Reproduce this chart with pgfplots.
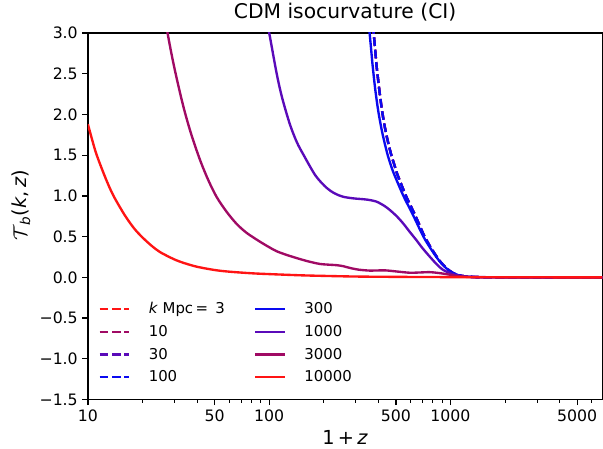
\documentclass[border=0pt]{standalone}
\usepackage{fontspec}
\setmainfont{DejaVu Sans}
\usepackage{pgfplots}
\pgfplotsset{compat=1.18}
\definecolor{cR}{RGB}{255,20,20}
\definecolor{cM}{RGB}{160,10,100}
\definecolor{cI}{RGB}{90,10,185}
\definecolor{cB}{RGB}{10,10,240}

\pgfplotstableread{
x y
345 3.4
358 3.0
365 2.8
372 2.6
385 2.3
401 2.02
422 1.76
448 1.52
470 1.37
490 1.26
550 1.0
620 0.77
709 0.5
790 0.33
869 0.2
950 0.11
1030 0.054
1100 0.028
1222 0.01
1400 0.003
1700 0.001
7000 0.0
}\kthree

\pgfplotstableread{
x y
363 3.4
377 3.0
384 2.8
391 2.6
405 2.3
421 2.02
442 1.76
469 1.52
492 1.37
510 1.26
568 1.0
636 0.77
720 0.5
797 0.33
873 0.2
952 0.11
1030 0.054
1100 0.028
1222 0.01
1400 0.003
1700 0.001
7000 0.0
}\kdash

\pgfplotstableread{
x y
92 3.4
100 3.0
110 2.5
118 2.2
130 1.88
142 1.66
155 1.5
180 1.25
207 1.1
230 1.03
255 0.99
290 0.97
315 0.963
350 0.953
390 0.93
430 0.88
461 0.83
500 0.76
546 0.667
600 0.55
647 0.46
700 0.36
766 0.258
840 0.16
907 0.094
1000 0.05
1075 0.027
1200 0.01
1500 0.003
2000 0.0
7000 0.0
}\kthousand

\pgfplotstableread{
x y
25 3.56
27.5 3.00
30 2.57
33.5 2.11
37 1.77
41.4 1.45
46 1.20
51.2 0.99
58 0.81
65.9 0.66
75 0.547
88.6 0.44
100 0.37
110 0.32
125 0.275
145 0.23
165 0.195
190 0.165
215 0.155
234 0.15
255 0.138
277 0.117
310 0.095
358 0.083
400 0.085
442 0.085
500 0.073
594 0.057
680 0.06
766 0.064
850 0.055
947 0.04
1100 0.015
1300 0.004
2000 0.0
7000 0.0
}\kthreethousand

\pgfplotstableread{
x y
10 1.88
11 1.55
12 1.32
13 1.13
14 0.98
16 0.76
18 0.60
20 0.49
22.4 0.39
25 0.31
30 0.22
34 0.175
40 0.13
50 0.09
60 0.07
80 0.05
100 0.04
150 0.025
200 0.018
300 0.01
500 0.006
1000 0.003
2000 0.001
7000 0.0
}\ktenthousand

\begin{document}
\begin{tikzpicture}
\begin{axis}[
  width=386.25pt, height=275.25pt, scale only axis,
  xmode=log, xmin=10, xmax=6880, ymin=-1.5, ymax=3,
  xtick={10,50,100,500,1000,5000},
  xticklabels={10,50,100,500,1000,5000},
  minor xtick={20,30,40,60,70,80,90,200,300,400,600,700,800,900,2000,3000,4000,6000},
  ytick={-1.5,-1,-0.5,0,0.5,1,1.5,2,2.5,3},
  yticklabels={−1.5,−1.0,−0.5,0.0,0.5,1.0,1.5,2.0,2.5,3.0},
  tick align=outside, xtick pos=bottom, ytick pos=left,
  major tick length=4.1pt, minor tick length=2.4pt,
  every tick/.style={black, line width=0.94pt},
  every minor tick/.style={black, line width=0.7pt},
  axis line style={line width=0.94pt},
  tick label style={font=\fontsize{11.8}{14}\selectfont},
  title={CDM isocurvature (CI)},
  title style={at={(rel axis cs:0.5,1)}, anchor=base, yshift=4.5pt, font=\fontsize{15.2}{18}\selectfont},
  xlabel={1\,+\,\textit{z}},
  xlabel style={at={(rel axis cs:0.5,0)}, anchor=base, yshift=-33.5pt, font=\fontsize{14.5}{17}\selectfont},
  ylabel={$\mathcal{T}$\textsubscript{\itshape b}(\textit{k},\,\textit{z})},
  ylabel style={at={(ticklabel cs:0.53)}, font=\fontsize{14.5}{17}\selectfont},
  legend columns=2, legend cell align=left,
  legend style={draw=none, fill=none, at={(rel axis cs:0.02,0.273)}, anchor=north west,
    font=\fontsize{11.2}{13.4}\selectfont, row sep=3.2pt, inner sep=0pt,
    /tikz/every odd column/.append style={column sep=12pt},
    /tikz/every even column/.append style={column sep=20pt}},
  legend image code/.code={\draw (0pt,0pt) -- (22pt,0pt);},
  every axis plot/.append style={line width=1.77pt},
]
\addplot[cR, smooth, dash pattern=on 6.5pt off 2.8pt, forget plot] table {\kdash};
\addplot[cM, smooth, dash pattern=on 6.5pt off 2.8pt, forget plot] table {\kdash};
\addplot[cI, smooth, dash pattern=on 6.5pt off 2.8pt, forget plot] table {\kdash};
\addplot[cB, smooth, dash pattern=on 6.5pt off 2.8pt, forget plot] table {\kdash};
\addplot[cB, smooth, forget plot] table {\kthree};
\addplot[cI, smooth, forget plot] table {\kthousand};
\addplot[cM, smooth, forget plot] table {\kthreethousand};
\addplot[cR, smooth, forget plot] table {\ktenthousand};

\addlegendimage{cR, line width=1.77pt, dash pattern=on 6.5pt off 2.8pt}
\addlegendentry{\textit{k} Mpc\,=\, 3}
\addlegendimage{cB, line width=1.77pt}
\addlegendentry{300}
\addlegendimage{cM, line width=1.77pt, dash pattern=on 6.5pt off 2.8pt}
\addlegendentry{10}
\addlegendimage{cI, line width=1.77pt}
\addlegendentry{1000}
\addlegendimage{cI, line width=1.77pt, dash pattern=on 6.5pt off 2.8pt}
\addlegendentry{30}
\addlegendimage{cM, line width=1.77pt}
\addlegendentry{3000}
\addlegendimage{cB, line width=1.77pt, dash pattern=on 6.5pt off 2.8pt}
\addlegendentry{100}
\addlegendimage{cR, line width=1.77pt}
\addlegendentry{10000}
\end{axis}
\pgfresetboundingbox
\path ([shift={(-66pt,-36.75pt)}]current axis.south west) rectangle ([shift={(0.5pt,24.75pt)}]current axis.north east);
\end{tikzpicture}
\end{document}
